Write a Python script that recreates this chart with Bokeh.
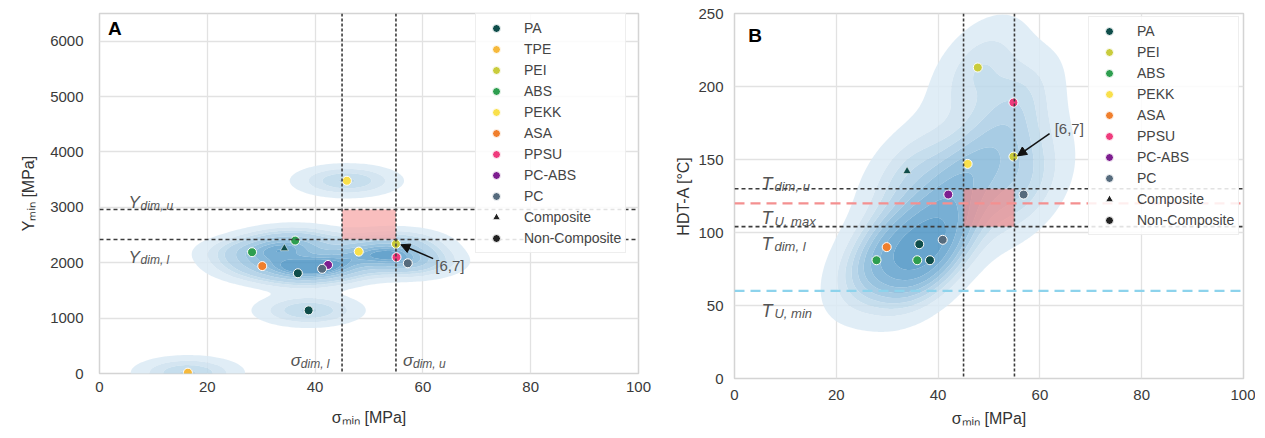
import numpy as np
from bokeh.plotting import figure
from bokeh.layouts import row
from bokeh.models import Range1d, Span, Arrow, NormalHead, Legend, LegendItem, FixedTicker
from bokeh.core.properties import value
from bokeh.embed import file_html
from bokeh.resources import INLINE

FONT = "Liberation Sans"

# ---------------- data ----------------
materials_A = ["PA", "TPE", "PEI", "ABS", "PEKK", "ASA", "PPSU", "PC-ABS", "PC"]
materials_B = ["PA", "PEI", "ABS", "PEKK", "ASA", "PPSU", "PC-ABS", "PC"]
material_colors = {
    "PA": "#0f4d4a", "TPE": "#f6b93b", "PEI": "#c9cc3c", "ABS": "#2e9e4f",
    "PEKK": "#f9e04b", "ASA": "#f07f2d", "PPSU": "#ef3b7d", "PC-ABS": "#7d1d8f",
    "PC": "#566b7d",
}

# Panel A: sigma_min [MPa] vs Y_min [MPa]
a_material = ["PA", "PA", "PA", "TPE", "PEI", "ABS", "ABS", "PEKK", "PEKK", "ASA", "PPSU", "PC-ABS", "PC", "PC"]
a_sigma = [36.8, 38.8, 34.3, 16.4, 55.0, 28.3, 36.3, 48.1, 45.9, 30.2, 55.1, 42.4, 41.3, 57.2]
a_Y = [1810, 1140, 2260, 15, 2340, 2190, 2400, 2200, 3480, 1940, 2100, 1960, 1890, 1990]
a_composite = [False, False, True, False, False, False, False, False, False, False, False, False, False, False]

# Panel B: sigma_min [MPa] vs HDT-A [°C]
b_material = ["PA", "PA", "PA", "PEI", "PEI", "ABS", "ABS", "PEKK", "ASA", "PPSU", "PC-ABS", "PC", "PC"]
b_sigma = [36.3, 38.4, 33.9, 47.8, 54.8, 27.9, 35.9, 45.8, 29.9, 54.8, 42.0, 40.9, 56.8]
b_hdt = [92, 81, 142, 213, 152, 81, 81, 147, 90, 189, 126, 95, 126]
b_composite = [False, False, True, False, False, False, False, False, False, False, False, False, False]

sigma_dim = [45, 55]      # sigma_dim,l , sigma_dim,u
Y_dim = [2420, 2960]      # Y_dim,l , Y_dim,u
T_dim = [104, 130]        # T_dim,l , T_dim,u
T_U = [60, 120]           # T_U,min , T_U,max
highlight_label = "[6,7]"
highlight_A = (55.0, 2340)
highlight_B = (54.8, 152)

x_ticks = [0, 20, 40, 60, 80, 100]
yA_ticks = [0, 1000, 2000, 3000, 4000, 5000, 6000]
yB_ticks = [0, 50, 100, 150, 200, 250]

kde_palette = ["#dbeaf4", "#cce1ef", "#bcd8ea", "#abcee5", "#99c3df",
               "#86b8d9", "#73add3", "#60a1cc", "#4c94c4"]


# ---------------- helpers ----------------
def kde(xs, ys, gx, gy, cov):
    inv = np.linalg.inv(cov)
    X, Y = np.meshgrid(gx, gy)
    Z = np.zeros_like(X)
    for x, y in zip(xs, ys):
        dx = X - x
        dy = Y - y
        q = inv[0, 0] * dx * dx + 2 * inv[0, 1] * dx * dy + inv[1, 1] * dy * dy
        Z += np.exp(-0.5 * q)
    return Z / len(xs)


def iso_levels(Z, props):
    v = np.sort(Z.ravel())[::-1]
    c = np.cumsum(v) / v.sum()
    idx = np.searchsorted(c, 1 - np.asarray(props))
    return np.take(v, idx, mode="clip")


def style(p, yticks):
    p.xaxis.ticker = FixedTicker(ticks=x_ticks)
    p.yaxis.ticker = FixedTicker(ticks=yticks)
    for ax in (p.xaxis, p.yaxis):
        ax.major_tick_line_color = None
        ax.minor_tick_line_color = None
        ax.major_tick_out = 0
        ax.major_tick_in = 0
        ax.axis_line_color = None
        ax.major_label_text_font = FONT
        ax.major_label_text_font_size = "15px"
        ax.major_label_text_color = "#3a3a3a"
        ax.axis_label_text_font = FONT
        ax.axis_label_text_font_size = "16px"
        ax.axis_label_text_font_style = "normal"
        ax.axis_label_text_color = "#333333"
    p.grid.grid_line_color = "#e2e2e2"
    p.grid.grid_line_width = 1.3
    p.outline_line_color = "#d4d4d4"
    p.outline_line_width = 1.5
    p.background_fill_color = "white"


def sub_label(p, x, y, main, sub, dy, dx_sub, main_size="17px", sub_size="12px"):
    p.text(x=[x], y=[y], text=[main], text_font=value(FONT), text_font_size=main_size,
           text_font_style="italic", text_color="#555555", text_baseline="alphabetic",
           text_align="left", y_offset=dy)
    p.text(x=[x], y=[y], text=[sub], text_font=value(FONT), text_font_size=sub_size,
           text_font_style="italic", text_color="#555555", text_baseline="alphabetic",
           text_align="left", x_offset=dx_sub, y_offset=dy + 3)


def add_points(p, mats, mat, xs, ys, comp):
    items = []
    for m in mats:
        xi = [x for x, mm, c in zip(xs, mat, comp) if mm == m and not c]
        yi = [y for y, mm, c in zip(ys, mat, comp) if mm == m and not c]
        r = p.scatter(xi, yi, marker="circle", size=9, fill_color=material_colors[m],
                      line_color="white", line_width=1)
        xc = [x for x, mm, c in zip(xs, mat, comp) if mm == m and c]
        yc = [y for y, mm, c in zip(ys, mat, comp) if mm == m and c]
        if xc:
            p.scatter(xc, yc, marker="triangle", size=8, fill_color=material_colors[m],
                      line_color="white", line_width=0.5)
        items.append(LegendItem(label=m, renderers=[r]))
    # legend-only keys (no visible point: NaN position)
    rc = p.scatter([float("nan")], [float("nan")], marker="triangle", size=9,
                   fill_color="#222222", line_color="white")
    rn = p.scatter([float("nan")], [float("nan")], marker="circle", size=9,
                   fill_color="#222222", line_color="white")
    items.append(LegendItem(label="Composite", renderers=[rc]))
    items.append(LegendItem(label="Non-Composite", renderers=[rn]))
    return items


def make_legend(items, loc):
    lg = Legend(items=items, location=loc)
    lg.label_text_font = FONT
    lg.label_text_font_size = "14px"
    lg.label_text_color = "#444444"
    lg.glyph_width = 32
    lg.glyph_height = 20
    lg.label_height = 20
    lg.spacing = 1
    lg.padding = 4
    lg.label_standoff = 12
    lg.margin = 0
    lg.border_line_color = "#dddddd"
    lg.background_fill_alpha = 0.85
    return lg


props = np.linspace(0.05, 1, 10)

# ---------------- panel A ----------------
pA = figure(frame_width=539, frame_height=360, min_border_left=99, min_border_right=30,
            min_border_top=13, min_border_bottom=60, output_backend="svg",
            toolbar_location=None, x_range=Range1d(0, 100), y_range=Range1d(0, 6500))
style(pA, yA_ticks)
pA.xaxis.axis_label = "σₘᵢₙ [MPa]"
pA.yaxis.axis_label = "Yₘᵢₙ [MPa]"
pA.xaxis.major_label_standoff = 8
pA.xaxis.axis_label_standoff = 14
pA.yaxis.major_label_standoff = 16
pA.yaxis.axis_label_standoff = 10

gxA = np.linspace(-20, 120, 281)
gyA = np.linspace(-1500, 8000, 281)
covA = np.array([[5.5 ** 2, 0.0], [0.0, 165.0 ** 2]])
ZA = kde(a_sigma, a_Y, gxA, gyA, covA)
levA = iso_levels(ZA, props)
pA.contour(x=gxA, y=gyA, z=ZA, levels=list(levA), fill_color=kde_palette,
           fill_alpha=0.85, line_color=None)

pA.quad(left=[sigma_dim[0]], right=[sigma_dim[1]], bottom=[Y_dim[0]], top=[Y_dim[1]],
        fill_color="#f7a8a8", fill_alpha=0.75, line_color=None)
for s in sigma_dim:
    pA.add_layout(Span(location=s, dimension="height", line_color="#3c3c3c",
                       line_dash="3 2", line_width=1.6))
for yv in Y_dim:
    pA.add_layout(Span(location=yv, dimension="width", line_color="#3c3c3c",
                       line_dash="4 3", line_width=1.6))

itemsA = add_points(pA, materials_A, a_material, a_sigma, a_Y, a_composite)

sub_label(pA, 5.4, Y_dim[1], "Y", "dim, u", -7, 12)
sub_label(pA, 5.4, Y_dim[0], "Y", "dim, l", 18, 12)
sub_label(pA, sigma_dim[0] - 9.5, 0, "σ", "dim, l", -13, 10)
sub_label(pA, sigma_dim[1] + 1.3, 0, "σ", "dim, u", -13, 10)

pA.text(x=[highlight_A[0] + 7.3], y=[highlight_A[1] - 385], text=[highlight_label],
        text_font=value(FONT), text_font_size="15px", text_color="#555555",
        text_baseline="middle", text_align="left")
pA.add_layout(Arrow(end=NormalHead(size=9, fill_color="#111111", line_color="#111111"),
                    x_start=highlight_A[0] + 6.9, y_start=highlight_A[1] - 265,
                    x_end=highlight_A[0] + 0.9, y_end=highlight_A[1] - 15,
                    line_color="#111111", line_width=1.5))
pA.text(x=[1.6], y=[6224], text=["A"], text_font=value(FONT), text_font_size="19px",
        text_font_style="bold", text_color="black", text_baseline="middle", text_align="left")
pA.add_layout(make_legend(itemsA, (376, 120)))

# ---------------- panel B ----------------
pB = figure(frame_width=509, frame_height=365, min_border_left=66, min_border_right=12,
            min_border_top=13, min_border_bottom=55, output_backend="svg",
            toolbar_location=None, x_range=Range1d(0, 100), y_range=Range1d(0, 250))
style(pB, yB_ticks)
pB.xaxis.axis_label = "σₘᵢₙ [MPa]"
pB.yaxis.axis_label = "HDT-A [°C]"
pB.xaxis.major_label_standoff = 11
pB.xaxis.axis_label_standoff = 7
pB.yaxis.major_label_standoff = 11
pB.yaxis.axis_label_standoff = 3

gxB = np.linspace(-20, 120, 281)
gyB = np.linspace(-60, 330, 281)
hxB, hyB, rhoB = 6.0, 23.0, 0.5
covB = np.array([[hxB ** 2, rhoB * hxB * hyB], [rhoB * hxB * hyB, hyB ** 2]])
ZB = kde(b_sigma, b_hdt, gxB, gyB, covB)
levB = iso_levels(ZB, props)
pB.contour(x=gxB, y=gyB, z=ZB, levels=list(levB), fill_color=kde_palette,
           fill_alpha=0.85, line_color=None)

pB.quad(left=[sigma_dim[0]], right=[sigma_dim[1]], bottom=[T_dim[0]], top=[T_dim[1]],
        fill_color="#f08a8a", fill_alpha=0.7, line_color=None)
for s in sigma_dim:
    pB.add_layout(Span(location=s, dimension="height", line_color="#3c3c3c",
                       line_dash="3 2", line_width=1.6))
for yv in T_dim:
    pB.add_layout(Span(location=yv, dimension="width", line_color="#3c3c3c",
                       line_dash="4 3", line_width=1.6))
pB.add_layout(Span(location=T_U[1], dimension="width", line_color="#f49090",
                   line_dash="10 6", line_width=2.2))
pB.add_layout(Span(location=T_U[0], dimension="width", line_color="#8dd3ec",
                   line_dash="10 6", line_width=2.2))

itemsB = add_points(pB, materials_B, b_material, b_sigma, b_hdt, b_composite)

sub_label(pB, 5.3, T_dim[1], "T", "dim, u", -5, 13, "18px", "13px")
sub_label(pB, 5.3, T_U[1], "T", "U, max", 15, 13, "18px", "13px")
sub_label(pB, 5.3, T_dim[0], "T", "dim, l", 17, 13, "18px", "13px")
sub_label(pB, 5.3, T_U[0], "T", "U, min", 20, 13, "18px", "13px")

pB.text(x=[highlight_B[0] + 8.1], y=[highlight_B[1] + 19], text=[highlight_label],
        text_font=value(FONT), text_font_size="15px", text_color="#555555",
        text_baseline="middle", text_align="left")
pB.add_layout(Arrow(end=NormalHead(size=9, fill_color="#111111", line_color="#111111"),
                    x_start=highlight_B[0] + 7.1, y_start=highlight_B[1] + 15.8,
                    x_end=highlight_B[0] + 0.8, y_end=highlight_B[1] + 0.5,
                    line_color="#111111", line_width=1.5))
pB.text(x=[2.7], y=[235], text=["B"], text_font=value(FONT), text_font_size="19px",
        text_font_style="bold", text_color="black", text_baseline="middle", text_align="left")
pB.add_layout(make_legend(itemsB, (354, 143)))

layout = row(pA, pB, spacing=0)
open("out.html", "w").write(file_html(layout, INLINE))
